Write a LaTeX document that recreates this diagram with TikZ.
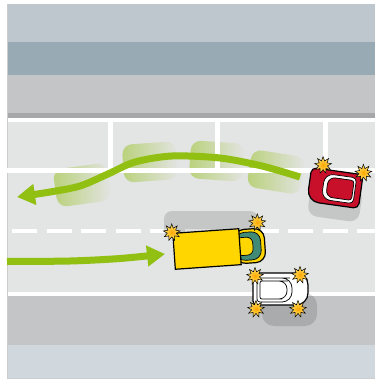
\documentclass[tikz,border=0pt]{standalone}
\usepackage{tikz}
\usepackage{xcolor}
\usetikzlibrary{arrows.meta,shapes.geometric,fadings}

\definecolor{skyband}{RGB}{189,199,205}
\definecolor{roofband}{RGB}{152,170,179}
\definecolor{walk}{RGB}{196,197,199}
\definecolor{curb}{RGB}{166,167,169}
\definecolor{tarmac}{RGB}{227,228,228}
\definecolor{lawn}{RGB}{208,216,222}
\definecolor{pathgreen}{RGB}{145,192,18}
\definecolor{carred}{RGB}{200,16,42}
\definecolor{vanyellow}{RGB}{255,214,0}
\definecolor{vanteal}{RGB}{64,138,118}
\definecolor{flashy}{RGB}{255,232,110}

\tikzset{
  flash/.style={star,star points=9,star point ratio=1.9,minimum size=8.5mm,inner sep=0pt,
    draw=black,line width=0.25mm,inner color=orange!70!yellow,outer color=flashy},
  ghost/.style={fill=pathgreen,fill opacity=0.5,rounded corners=5mm,path fading=east},
  route/.style={draw=pathgreen,line width=3.5mm,-{Triangle[length=9mm,width=10mm]}},
  castshadow/.style={fill=black,opacity=0.13},
  carline/.style={draw=black,line width=0.6mm},
  glass/.style={draw=black,line width=0.35mm},
}

\begin{document}
\begin{tikzpicture}[x=0.5mm,y=-0.5mm]
  \useasboundingbox (0,0) rectangle (375,379);
  % --- street bands, top to bottom ---
  \fill[white] (0,0) rectangle (375,379);
  \fill[skyband] (7,4) rectangle (375,42);
  \fill[roofband] (7,42) rectangle (375,75);
  \fill[walk] (7,75) rectangle (375,113);
  \fill[curb] (7,113) rectangle (375,118);
  \fill[white] (7,118) rectangle (375,122);
  \fill[tarmac] (7,122) rectangle (375,292);
  \fill[white] (7,292) rectangle (375,296);
  \fill[walk] (7,296) rectangle (375,345);
  \fill[lawn] (7,345) rectangle (375,378);
  \draw[black!20,line width=0.3mm] (7,4) -- (7,378) -- (375,378);
  % --- blurred copies of the red car pulling out ---
  \foreach \bx/\by/\ba in {82/185/8,150/162/4,217/161/-4,276/172/-9}
    \fill[ghost,shift={(\bx,\by)},rotate=\ba] (-27,-19) rectangle (27,19);
  % --- markings: parking bays and centre line ---
  \foreach \px in {110.5,217.5,325}
    \draw[white,line width=2.5mm] (\px,122) -- (\px,170.5);
  \draw[white,line width=2.5mm] (7,170.5) -- (375,170.5);
  \foreach \dx in {12,46.5,...,357}
    \draw[white,line width=2mm] (\dx,231) -- ++(25,0);
  % --- driving lines ---
  \draw[route] plot[smooth] coordinates {
    (300,177)(262,166)(220,158)(172,156)(135,162)(108,174)(80,186)(50,192)(17,197)};
  \draw[route] plot[smooth] coordinates {
    (7,261.5)(70,261)(120,258.5)(165,254)};
  % --- red car leaving the bay ---
  \begin{scope}[shift={(335,188)},rotate=-8]
    \fill[castshadow,rounded corners=5mm] (-24,-3) rectangle (28,31);
    \filldraw[fill=carred,carline,rounded corners=2.5mm] (0,-17) -- (-26,-17)
      [rounded corners=6mm] -- (-26,17) -- (0,17) [rounded corners=2.5mm] -- (26,17) -- (26,-17) -- cycle;
    \filldraw[fill=white,glass,rounded corners=2mm] (4,-13) [rounded corners=4.5mm] -- (-12,-13)
      -- (-12,13) -- (4,13) [rounded corners=2mm] -- (20,13) -- (20,-13) -- cycle;
    \filldraw[fill=carred,glass,rounded corners=1.5mm] (4,-10) [rounded corners=3.5mm] -- (-8,-10)
      -- (-8,10) -- (4,10) [rounded corners=1.5mm] -- (18,10) -- (18,-10) -- cycle;
    \node[flash] (redA) at (-15,-21) {};
    \node[flash] (redB) at (26,-19) {};
  \end{scope}
  % --- yellow van ---
  \fill[castshadow,rounded corners=4mm] (164,211) rectangle (258,238);
  \begin{scope}[shift={(207,249)},rotate=4]
    \filldraw[fill=vanyellow,carline,rounded corners=5mm] (28,-17) -- (58,-17) -- (58,17) -- (28,17) -- cycle;
    \filldraw[fill=vanteal,glass,rounded corners=4.5mm] (29,-14) -- (54,-14) -- (54,14) -- (29,14) -- cycle;
    \filldraw[fill=vanyellow,glass,rounded corners=3mm] (29,-9) -- (46,-9) -- (46,9) -- (29,9) -- cycle;
    \filldraw[fill=vanyellow,carline] (-33,-18) rectangle (33,18);
    \node[flash] (vanA) at (-34,-19) {};
    \node[flash] (vanB) at (52,-23) {};
  \end{scope}
  % --- white car with hazard lights ---
  \begin{scope}[shift={(280,289)}]
    \fill[castshadow,rounded corners=6mm] (-18,4) rectangle (37,37);
    \filldraw[fill=white,carline,rounded corners=2mm] (0,-16) -- (-27,-16) -- (-27,16) -- (0,16)
      [rounded corners=6mm] -- (28,16) -- (28,-16) -- cycle;
    \filldraw[fill=white,glass,rounded corners=1.5mm] (0,-11) -- (-23,-11) -- (-23,13) -- (0,13)
      [rounded corners=5mm] -- (12,13) -- (12,-11) -- cycle;
    \filldraw[fill=white,glass,rounded corners=1mm] (0,-8) -- (-20,-8) -- (-20,10) -- (0,10)
      [rounded corners=4mm] -- (7,10) -- (7,-8) -- cycle;
    \foreach \sx/\sy [count=\i] in {-25/-13,20/-14,-24/20,18/20}
      \node[flash] (white\i) at (\sx,\sy) {};
  \end{scope}
\end{tikzpicture}
\end{document}
